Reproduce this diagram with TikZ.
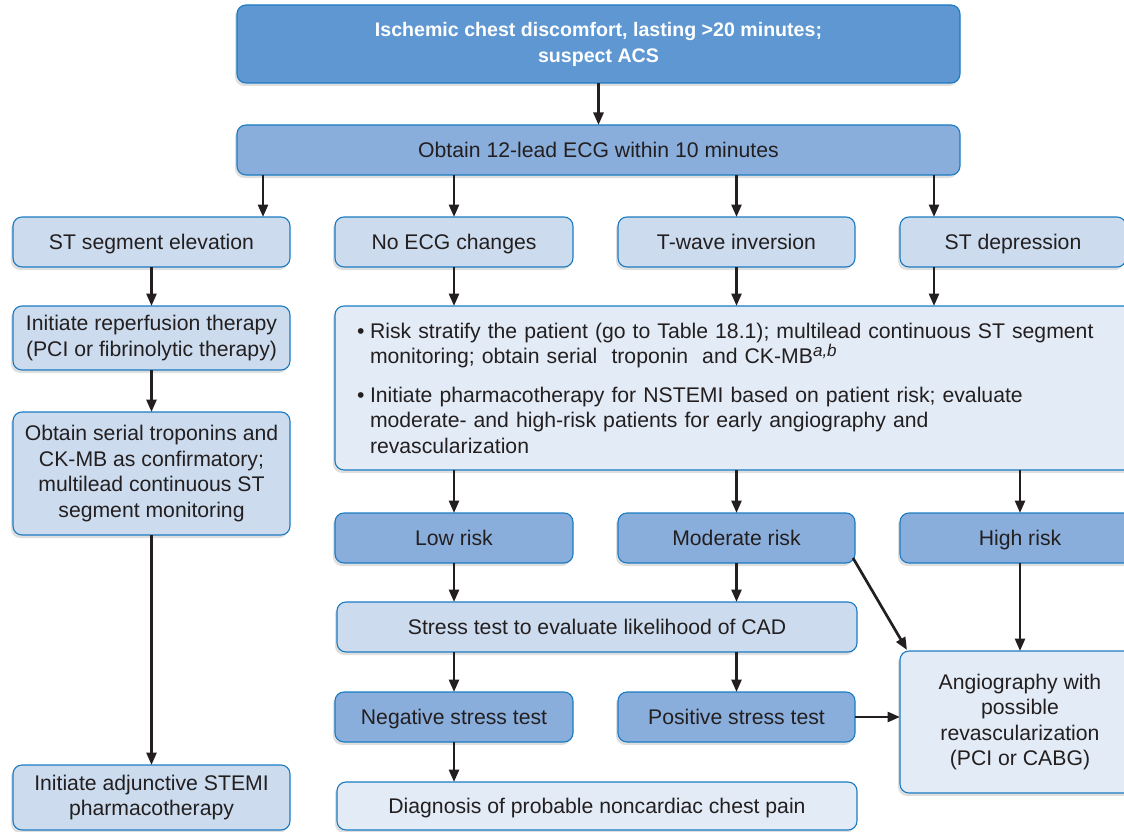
\documentclass[tikz,border=0pt]{standalone}
\usepackage{fontspec}
\setmainfont{Liberation Sans}
\usetikzlibrary{arrows.meta,shadows,calc}
\definecolor{topfill}{HTML}{5E97D1}
\definecolor{midfill}{HTML}{8AAEDC}
\definecolor{paleA}{HTML}{CCDCEE}
\definecolor{paleB}{HTML}{E2EBF6}
\definecolor{bordc}{HTML}{1B7BC2}
\definecolor{txt}{HTML}{231F20}
\begin{document}
\begin{tikzpicture}[x=1pt,y=-1pt,
  box/.style={draw=bordc, line width=1.1pt, rounded corners=9pt, text=txt, align=center,
    font=\fontsize{21.2}{25.5}\selectfont, inner sep=0pt, outer sep=0pt,
    drop shadow={shadow xshift=-2pt,shadow yshift=-3pt,opacity=0.25}},
  oneline/.style={text height=15.2pt, text depth=0pt},
  topbox/.style={box, fill=topfill, text=white, font=\fontsize{19.6}{26}\selectfont\bfseries},
  midbox/.style={box, fill=midfill},
  abox/.style={box, fill=paleA},
  bbox/.style={box, fill=paleB},
  arr/.style={draw=txt, line width=2.7pt, -{Triangle[length=12.5pt,width=10pt]}}
]
\useasboundingbox (0,0) rectangle (1124,832);

\node[topbox, minimum width=723pt, minimum height=78pt] (top) at (598.5,44)
  {Ischemic chest discomfort, lasting >20 minutes;\\suspect ACS};
\node[midbox, oneline, minimum width=723pt, minimum height=50pt] (ecg) at (598.5,150)
  {Obtain 12-lead ECG within 10 minutes};

\node[abox, oneline, minimum width=277pt, minimum height=50pt] (stelev) at (151.5,242) {ST segment elevation};
\node[abox, oneline, minimum width=238pt, minimum height=50pt] (noecg) at (454,242) {No ECG changes};
\node[abox, oneline, minimum width=237pt, minimum height=50pt] (twave) at (736.5,242) {T-wave inversion};
\node[abox, oneline, minimum width=226pt, minimum height=50pt] (stdep) at (1013,242) {ST depression};

\node[abox, minimum width=277pt, minimum height=64pt] (reperf) at (151.5,338)
  {Initiate reperfusion therapy\\(PCI or fibrinolytic therapy)};
\node[abox, minimum width=277pt, minimum height=123pt] (tropo) at (151.5,473.5)
  {Obtain serial troponins and\\CK-MB as confirmatory;\\multilead continuous ST\\segment monitoring};
\node[abox, minimum width=277pt, minimum height=65pt] (adj) at (151.5,797.5)
  {Initiate adjunctive STEMI\\pharmacotherapy};

\node[bbox, minimum width=805pt, minimum height=164pt, align=left, text width=761pt, inner xsep=22pt] (risk) at (737.5,388)
  {\makebox[13pt][l]{\textbullet}Risk stratify the patient (go to Table 18.1); multilead continuous ST segment\\
   \hspace*{13pt}monitoring; obtain serial\ \ troponin\ \ and CK-MB\textsuperscript{\itshape\fontsize{17}{17}\selectfont a,b}\\[13pt]
   \makebox[13pt][l]{\textbullet}Initiate pharmacotherapy for NSTEMI based on patient risk; evaluate\\
   \hspace*{13pt}moderate- and high-risk patients for early angiography and\\
   \hspace*{13pt}revascularization};

\node[midbox, oneline, minimum width=238pt, minimum height=50pt] (low) at (454,538) {Low risk};
\node[midbox, oneline, minimum width=237pt, minimum height=50pt] (mod) at (736.5,538) {Moderate risk};
\node[midbox, oneline, minimum width=240pt, minimum height=50pt] (high) at (1020,538) {High risk};

\node[abox, oneline, minimum width=520pt, minimum height=50pt] (stress) at (597,627) {Stress test to evaluate likelihood of CAD};

\node[midbox, oneline, minimum width=238pt, minimum height=50pt] (neg) at (454,717) {Negative stress test};
\node[midbox, oneline, minimum width=237pt, minimum height=50pt] (pos) at (736.5,717) {Positive stress test};

\node[bbox, oneline, minimum width=520pt, minimum height=48pt] (diag) at (597,806) {Diagnosis of probable noncardiac chest pain};
\node[bbox, minimum width=240pt, minimum height=142pt] (angio) at (1020,722)
  {Angiography with\\possible\\revascularization\\(PCI or CABG)};

\coordinate (e1) at ([xshift=-27pt]stelev.north east);
\coordinate (d1) at ([xshift=34pt]stdep.north west);
\coordinate (d2) at ([xshift=34pt]stdep.south west);

\draw[arr] (top) -- (ecg);
\draw[arr] (ecg.south -| e1) -- (e1);
\draw[arr] (ecg.south -| noecg.north) -- (noecg.north);
\draw[arr] (ecg.south -| twave.north) -- (twave.north);
\draw[arr] (ecg.south -| d1) -- (d1);

\draw[arr] (stelev) -- (reperf);
\draw[arr] (reperf) -- (tropo);
\draw[arr] (tropo) -- (adj);

\draw[arr] (noecg.south) -- (noecg.south |- risk.north);
\draw[arr] (twave.south) -- (twave.south |- risk.north);
\draw[arr] (d2) -- (d2 |- risk.north);

\draw[arr] (low.north |- risk.south) -- (low.north);
\draw[arr] (mod.north |- risk.south) -- (mod.north);
\draw[arr] (high.north |- risk.south) -- (high.north);

\draw[arr] (low.south) -- (low.south |- stress.north);
\draw[arr] (mod.south) -- (mod.south |- stress.north);
\draw[arr] (neg.north |- stress.south) -- (neg.north);
\draw[arr] (pos.north |- stress.south) -- (pos.north);
\draw[arr] (neg.south) -- (neg.south |- diag.north);

\draw[arr] (high.south) -- (high.south |- angio.north);
\draw[arr] ([xshift=-2pt,yshift=5pt]mod.south east) -- ([xshift=7pt,yshift=1pt]angio.north west);
\draw[arr] (pos.east) -- (pos.east -| angio.west);
\end{tikzpicture}
\end{document}
